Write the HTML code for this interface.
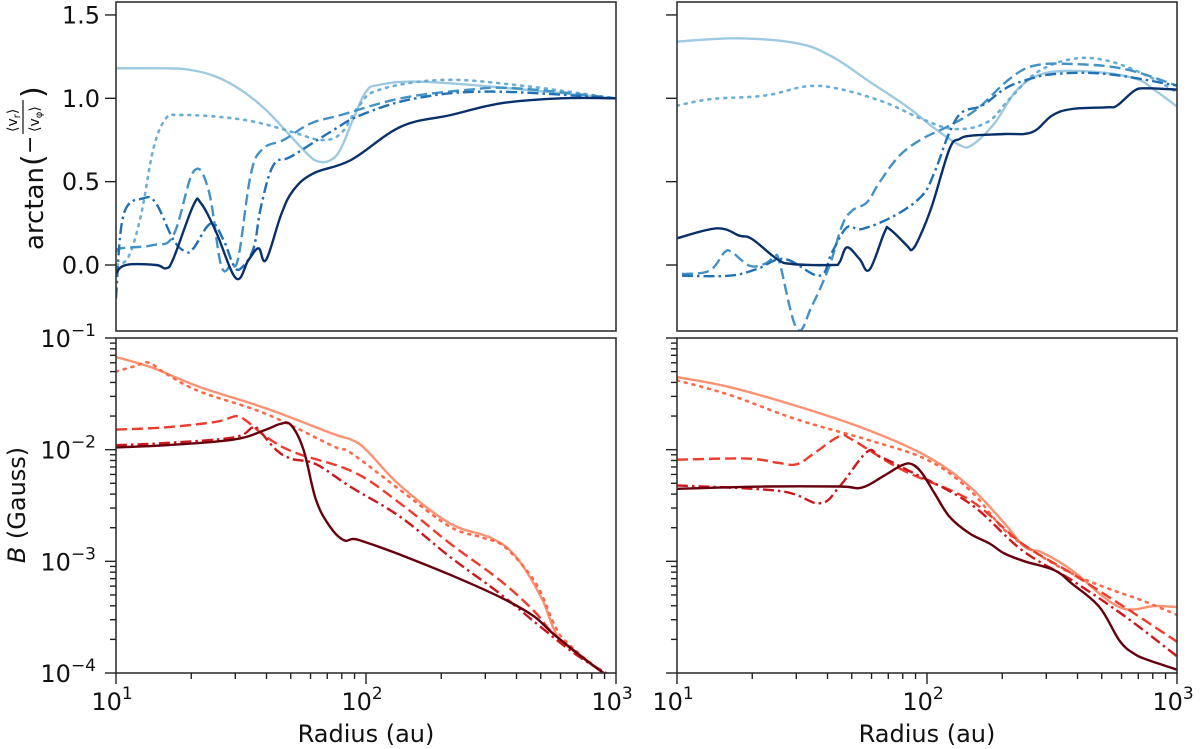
<!DOCTYPE html>
<html><head><meta charset="utf-8"><style>
html,body{margin:0;padding:0;background:#fff;}
svg{display:block;font-family:"DejaVu Sans","Liberation Sans",sans-serif;}
</style></head><body>
<svg id="fig" width="1200" height="749" viewBox="0 0 1200 749" xmlns="http://www.w3.org/2000/svg">
<defs>
<clipPath id="cTL"><rect x="116" y="2" width="500" height="329"/></clipPath>
<clipPath id="cTR"><rect x="677" y="2" width="500" height="329"/></clipPath>
<clipPath id="cBL"><rect x="116" y="338" width="500" height="335"/></clipPath>
<clipPath id="cBR"><rect x="677" y="338" width="500" height="335"/></clipPath>
</defs>
<g id="layer"></g>
<g transform="translate(43,250) rotate(-90)" fill="#111">
<text x="0" y="0" font-size="26">arctan</text>
<text x="84" y="0" font-size="30">(</text>
<text x="96" y="-6" font-size="22">−</text>
<text x="118" y="-26" font-size="14">⟨v<tspan font-size="10" dy="3">r</tspan><tspan dy="-3">⟩</tspan></text>
<line x1="116" y1="-20" x2="150" y2="-20" stroke="#111" stroke-width="1.2"/>
<text x="118" y="-4" font-size="14">⟨v<tspan font-size="10" dy="3">φ</tspan><tspan dy="-3">⟩</tspan></text>
<text x="152" y="0" font-size="30">)</text>
</g>
<text transform="translate(25,505) rotate(-90)" text-anchor="middle" font-size="24" fill="#111"><tspan font-style="italic">B</tspan> (Gauss)</text>
<text x="366" y="742" text-anchor="middle" font-size="24" fill="#111">Radius (au)</text>
<text x="927" y="742" text-anchor="middle" font-size="24" fill="#111">Radius (au)</text>
</svg>
<script>
// ---- data: [log10 radius (au), value] ----
const tlLight=[[1.0,1.18],[1.2,1.18],[1.3,1.17],[1.4,1.13],[1.5,1.05],[1.6,0.93],[1.7,0.77],[1.77,0.66],[1.81,0.62],[1.86,0.63],[1.9,0.7],[1.95,0.88],[2.0,1.04],[2.05,1.08],[2.2,1.1],[2.5,1.07],[3.0,1.0]];
const tlDotted=[[1.0,0.0],[1.05,0.05],[1.1,0.3],[1.15,0.7],[1.2,0.88],[1.25,0.9],[1.4,0.89],[1.55,0.86],[1.7,0.8],[1.82,0.75],[1.9,0.79],[1.97,0.95],[2.05,1.05],[2.3,1.11],[2.6,1.08],[3.0,1.0]];
const tlDashed=[[1.0,0.08],[1.02,0.1],[1.15,0.12],[1.23,0.18],[1.31,0.56],[1.37,0.45],[1.42,0.0],[1.46,0.0],[1.49,0.05],[1.54,0.55],[1.59,0.7],[1.67,0.75],[1.78,0.85],[1.9,0.9],[2.14,1.0],[2.4,1.05],[2.6,1.06],[3.0,1.0]];
const tlDashdot=[[1.0,-0.2],[1.03,0.3],[1.11,0.4],[1.16,0.37],[1.23,0.15],[1.28,0.08],[1.31,0.1],[1.38,0.25],[1.43,0.15],[1.47,0.0],[1.5,-0.02],[1.55,0.1],[1.58,0.35],[1.63,0.6],[1.7,0.65],[1.86,0.8],[1.98,0.9],[2.2,1.0],[2.5,1.04],[3.0,1.0]];
const tlDark=[[1.0,-0.05],[1.04,0.0],[1.16,0.0],[1.2,-0.02],[1.23,0.04],[1.31,0.36],[1.34,0.37],[1.4,0.2],[1.48,-0.08],[1.53,0.03],[1.57,0.1],[1.6,0.03],[1.66,0.3],[1.71,0.45],[1.79,0.55],[1.94,0.63],[2.14,0.83],[2.34,0.9],[2.54,0.97],[2.78,1.0],[3.0,1.0]];

const trLight=[[1.0,1.34],[1.24,1.36],[1.48,1.33],[1.62,1.25],[1.77,1.1],[1.92,0.95],[2.03,0.82],[2.13,0.72],[2.18,0.72],[2.27,0.85],[2.36,1.05],[2.47,1.15],[2.65,1.16],[2.83,1.12],[2.91,1.05],[3.0,0.95]];
const trDotted=[[1.0,0.956],[1.14,0.996],[1.35,1.016],[1.52,1.072],[1.65,1.056],[1.83,0.976],[1.98,0.876],[2.11,0.816],[2.24,0.856],[2.33,0.996],[2.44,1.156],[2.58,1.236],[2.72,1.226],[2.88,1.136],[3.0,1.036]];
const trDashed=[[1.02,-0.054],[1.13,-0.034],[1.19,0.076],[1.22,0.076],[1.29,-0.004],[1.35,0.006],[1.39,0.046],[1.41,0.016],[1.48,-0.384],[1.54,-0.244],[1.61,-0.004],[1.66,0.236],[1.7,0.326],[1.76,0.376],[1.81,0.496],[1.89,0.656],[1.98,0.756],[2.09,0.836],[2.2,0.936],[2.33,1.116],[2.43,1.196],[2.58,1.206],[2.79,1.176],[3.0,1.076]];
const trDashdot=[[1.02,-0.064],[1.21,-0.064],[1.32,-0.024],[1.43,0.036],[1.57,-0.064],[1.62,0.076],[1.68,0.226],[1.74,0.216],[1.87,0.296],[1.98,0.416],[2.03,0.556],[2.09,0.796],[2.14,0.916],[2.22,0.956],[2.31,1.056],[2.39,1.106],[2.51,1.146],[2.72,1.146],[3.0,1.076]];
const trDark=[[1.0,0.16],[1.16,0.22],[1.25,0.176],[1.3,0.156],[1.4,0.036],[1.46,0.006],[1.62,0.0],[1.65,0.016],[1.68,0.106],[1.73,0.036],[1.77,-0.028],[1.83,0.196],[1.85,0.216],[1.92,0.116],[1.94,0.092],[1.97,0.166],[2.02,0.356],[2.09,0.696],[2.13,0.756],[2.18,0.776],[2.31,0.786],[2.42,0.796],[2.5,0.896],[2.58,0.936],[2.72,0.946],[2.76,0.956],[2.83,1.046],[2.88,1.06],[3.0,1.052]];

// bottom panels: [log10 radius, log10 B(Gauss)]
const blLight=[[1.0,-1.17],[1.15,-1.27],[1.336,-1.44],[1.6,-1.63],[1.87,-1.86],[1.94,-1.91],[2.0,-2.0],[2.136,-2.32],[2.336,-2.66],[2.5,-2.79],[2.6,-2.96],[2.7,-3.32],[2.75,-3.6],[2.79,-3.73],[2.95,-4.0],[3.0,-4.05]];
const blDotted=[[1.0,-1.3],[1.08,-1.25],[1.13,-1.22],[1.2,-1.32],[1.336,-1.48],[1.6,-1.68],[1.87,-1.97],[1.94,-2.03],[2.136,-2.36],[2.336,-2.69],[2.47,-2.79],[2.56,-2.88],[2.68,-3.2],[2.75,-3.55],[2.8,-3.72],[2.95,-4.0],[3.0,-4.05]];
const blDashed=[[1.0,-1.82],[1.2,-1.8],[1.4,-1.75],[1.48,-1.7],[1.52,-1.74],[1.61,-1.9],[1.72,-2.03],[1.95,-2.2],[2.136,-2.48],[2.336,-2.84],[2.536,-3.17],[2.67,-3.44],[2.76,-3.67],[2.95,-4.0],[3.0,-4.05]];
const blDashdot=[[1.0,-1.96],[1.2,-1.94],[1.47,-1.89],[1.547,-1.8],[1.57,-1.82],[1.64,-2.0],[1.7,-2.08],[1.8,-2.13],[1.936,-2.33],[2.136,-2.6],[2.336,-2.96],[2.536,-3.29],[2.7,-3.59],[2.85,-3.85],[3.0,-4.05]];
const blDark=[[1.0,-1.98],[1.2,-1.96],[1.47,-1.91],[1.6,-1.82],[1.656,-1.77],[1.7,-1.78],[1.75,-2.0],[1.8,-2.45],[1.856,-2.69],[1.91,-2.81],[1.95,-2.8],[2.0,-2.83],[2.136,-2.94],[2.336,-3.12],[2.536,-3.32],[2.67,-3.49],[2.76,-3.67],[2.95,-4.0],[3.0,-4.05]];

const brLight=[[1.0,-1.35],[1.21,-1.44],[1.48,-1.61],[1.76,-1.82],[2.0,-2.06],[2.17,-2.33],[2.31,-2.66],[2.39,-2.87],[2.46,-2.92],[2.58,-3.08],[2.69,-3.29],[2.77,-3.41],[2.83,-3.43],[2.91,-3.4],[3.0,-3.41]];
const brDotted=[[1.0,-1.38],[1.21,-1.51],[1.48,-1.73],[1.76,-1.91],[2.0,-2.09],[2.17,-2.36],[2.31,-2.72],[2.44,-2.93],[2.58,-3.11],[2.72,-3.24],[2.86,-3.35],[3.0,-3.48]];
const brDashed=[[1.0,-2.09],[1.28,-2.08],[1.41,-2.12],[1.48,-2.13],[1.55,-2.03],[1.65,-1.88],[1.7,-1.91],[1.9,-2.18],[2.17,-2.45],[2.38,-2.84],[2.58,-3.11],[2.79,-3.41],[3.0,-3.72]];
const brDashdot=[[1.0,-2.32],[1.41,-2.37],[1.57,-2.48],[1.65,-2.33],[1.76,-2.02],[1.81,-2.06],[1.92,-2.18],[2.17,-2.48],[2.38,-2.9],[2.58,-3.17],[2.79,-3.49],[3.0,-3.85]];
const brDark=[[1.0,-2.35],[1.35,-2.33],[1.65,-2.33],[1.74,-2.34],[1.83,-2.23],[1.9,-2.14],[1.94,-2.13],[1.98,-2.21],[2.03,-2.39],[2.09,-2.6],[2.17,-2.75],[2.25,-2.84],[2.31,-2.93],[2.39,-3.0],[2.51,-3.08],[2.58,-3.2],[2.69,-3.41],[2.77,-3.71],[2.83,-3.83],[2.88,-3.88],[3.0,-3.97]];

const topTickValues=[0.0,0.5,1.0,1.5];
const topTickLabels=["0.0","0.5","1.0","1.5"];
const logYTickExps=[-1,-2,-3,-4];
const logXTickExps=[1,2,3];

const NS="http://www.w3.org/2000/svg";
const layer=document.getElementById('layer');
function mk(tag,attrs,parent){const e=document.createElementNS(NS,tag);for(const k in attrs)e.setAttribute(k,attrs[k]);(parent||layer).appendChild(e);return e;}

const panels={
 TL:{x0:116,x1:616,y0:2,y1:331,type:'lin',clip:'cTL'},
 TR:{x0:677,x1:1177,y0:2,y1:331,type:'lin',clip:'cTR'},
 BL:{x0:116,x1:616,y0:338,y1:673,type:'log',clip:'cBL'},
 BR:{x0:677,x1:1177,y0:338,y1:673,type:'log',clip:'cBR'}
};
function xScale(p,lr){return p.x0+(lr-1)/2*(p.x1-p.x0);}
function yScale(p,v){ if(p.type==='lin') return 265-v*166.7; return p.y0+(-1-v)/3*(p.y1-p.y0);}

const blues={light:'#9ecae1',dotted:'#6baed6',dashed:'#4292c6',dashdot:'#2171b5',dark:'#08306b'};
const reds={light:'#fc9272',dotted:'#fb6a4a',dashed:'#ef3b2c',dashdot:'#cb181d',dark:'#67000d'};
const dashes={light:'',dotted:'2 6',dashed:'11 5',dashdot:'11 4 2.5 4',dark:''};

function smoothPath(pts){
 let d='M'+pts[0][0].toFixed(1)+' '+pts[0][1].toFixed(1);
 for(let i=0;i<pts.length-1;i++){
  const p0=pts[Math.max(0,i-1)],p1=pts[i],p2=pts[i+1],p3=pts[Math.min(pts.length-1,i+2)];
  const t=0.18;
  const c1x=p1[0]+(p2[0]-p0[0])*t,c1y=p1[1]+(p2[1]-p0[1])*t;
  const c2x=p2[0]-(p3[0]-p1[0])*t,c2y=p2[1]-(p3[1]-p1[1])*t;
  d+=' C'+c1x.toFixed(1)+' '+c1y.toFixed(1)+' '+c2x.toFixed(1)+' '+c2y.toFixed(1)+' '+p2[0].toFixed(1)+' '+p2[1].toFixed(1);
 }
 return d;
}
function drawLine(pk,data,style,pal,name){
 const p=panels[pk];
 const pts=data.map(pt=>[xScale(p,pt[0]),yScale(p,pt[1])]);
 const path=mk('path',{d:smoothPath(pts),fill:'none',stroke:pal[style],'stroke-width':style==='dotted'?2.6:2.4,'stroke-linejoin':'round','stroke-linecap':style==='dotted'?'round':'butt','clip-path':'url(#'+p.clip+')'});
 if(dashes[style])path.setAttribute('stroke-dasharray',dashes[style]);
 
 
}
const series=[
 ['TL',tlLight,'light',blues,'tl-line-light-solid'],['TL',tlDotted,'dotted',blues,'tl-line-dotted'],['TL',tlDashed,'dashed',blues,'tl-line-dashed'],['TL',tlDashdot,'dashdot',blues,'tl-line-dashdot'],['TL',tlDark,'dark',blues,'tl-line-dark-solid'],
 ['TR',trLight,'light',blues,'tr-line-light-solid'],['TR',trDotted,'dotted',blues,'tr-line-dotted'],['TR',trDashed,'dashed',blues,'tr-line-dashed'],['TR',trDashdot,'dashdot',blues,'tr-line-dashdot'],['TR',trDark,'dark',blues,'tr-line-dark-solid'],
 ['BL',blLight,'light',reds,'bl-line-light-solid'],['BL',blDotted,'dotted',reds,'bl-line-dotted'],['BL',blDashed,'dashed',reds,'bl-line-dashed'],['BL',blDashdot,'dashdot',reds,'bl-line-dashdot'],['BL',blDark,'dark',reds,'bl-line-dark-solid'],
 ['BR',brLight,'light',reds,'br-line-light-solid'],['BR',brDotted,'dotted',reds,'br-line-dotted'],['BR',brDashed,'dashed',reds,'br-line-dashed'],['BR',brDashdot,'dashdot',reds,'br-line-dashdot'],['BR',brDark,'dark',reds,'br-line-dark-solid']
];
series.forEach(s=>drawLine(s[0],s[1],s[2],s[3],s[4]));

function tick(x1,y1,x2,y2){const t=mk('line',{x1:x1,y1:y1,x2:x2,y2:y2,stroke:'#222','stroke-width':1.4});
 
 }

for(const k in panels){
 const p=panels[k];
 const fr=mk('rect',{x:p.x0,y:p.y0,width:p.x1-p.x0,height:p.y1-p.y0,fill:'none',stroke:'#333','stroke-width':1.6});
 
 
 if(p.type==='lin'){
  topTickValues.forEach((v,i)=>{
   const y=yScale(p,v);
   tick(p.x0-11,y,p.x0,y);
   if(k==='TL'){
    const t=mk('text',{x:p.x0-16,y:y+8.5,'text-anchor':'end','font-size':24,fill:'#111'});
    t.textContent=topTickLabels[i];
    
    
   }
  });
 } else {
  logYTickExps.forEach(e=>{
   const y=yScale(p,e);
   tick(p.x0-11,y,p.x0,y);
   if(e>-4){for(let m=2;m<=9;m++){const ym=yScale(p,e-1+Math.log10(m));tick(p.x0-6,ym,p.x0,ym);}}
   if(k==='BL'){
    const t=mk('text',{x:p.x0-20,y:y+9,'text-anchor':'end','font-size':24,fill:'#111'});
    t.textContent='10';
    const s=mk('tspan',{'font-size':17,dy:-11},t); s.textContent='−'+(-e);
    
    
   }
  });
  logXTickExps.forEach(e=>{
   const x=xScale(p,e);
   tick(x,p.y1,x,p.y1+11);
   if(e<3){for(let m=2;m<=9;m++){const xm=xScale(p,e+Math.log10(m));tick(xm,p.y1,xm,p.y1+6);}}
   const t=mk('text',{x:x-4,y:710,'text-anchor':'middle','font-size':24,fill:'#111'});
   t.textContent='10';
   const s=mk('tspan',{'font-size':17,dy:-11},t); s.textContent=String(e);
   
   
  });
 }
}
</script>
</body></html>
